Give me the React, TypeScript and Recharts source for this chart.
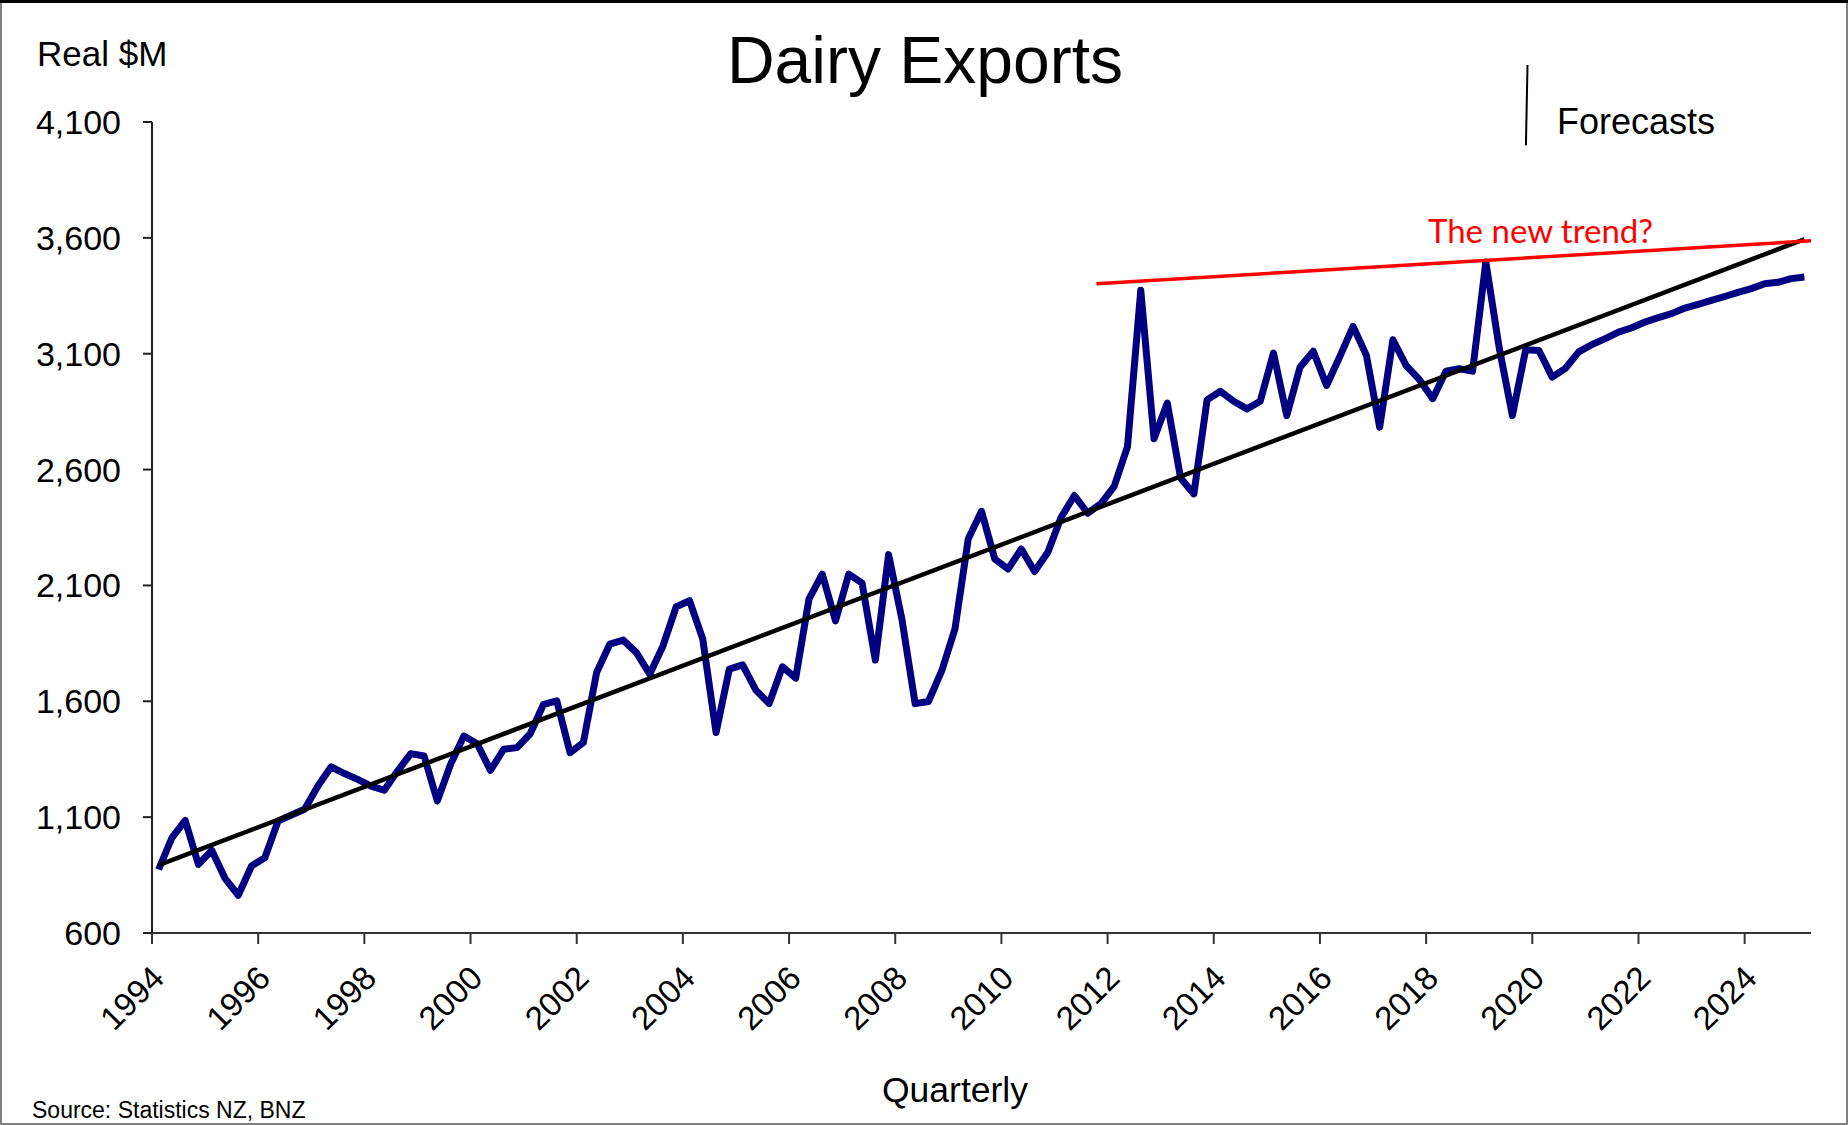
import React from "react";
import {
  Line,
  LineChart,
  ReferenceLine,
  XAxis,
  YAxis,
} from "recharts";

// Quarterly real dairy exports ($M), 1994Q1 onward
const START_YEAR = 1994;

const actuals = [
  874, 1011, 1086, 896, 957, 836, 763, 889, 925, 1083, 1109, 1134, 1234, 1317,
  1288, 1263, 1234, 1216, 1299, 1374, 1364, 1170, 1328, 1450, 1417, 1302, 1393,
  1400, 1460, 1587, 1602, 1378, 1422, 1724, 1847, 1864, 1810, 1717, 1839, 2008,
  2034, 1868, 1465, 1739, 1757, 1648, 1590, 1749, 1700, 2041, 2149, 1947, 2149,
  2110, 1778, 2233, 1955, 1590, 1599, 1731, 1912, 2300, 2420, 2214, 2171, 2257,
  2160, 2243, 2394, 2488, 2412, 2453, 2528, 2699, 3374, 2733, 2887, 2564, 2495,
  2901, 2938, 2895, 2862, 2895, 3103, 2833, 3042, 3111, 2963, 3088, 3218, 3093,
  2783, 3160, 3049, 2988, 2906, 3025, 3035, 3025, 3496, 3128, 2833, 3117,
];

// 2020Q1 onward
const forecasts = [
  3114, 2999, 3037, 3108, 3140, 3165, 3193, 3212, 3237, 3256, 3273, 3297, 3313,
  3330, 3347, 3365, 3381, 3402, 3408, 3424, 3431,
];

const trendLine = [
  { x: 1994.125, value: 893 },
  { x: 2025.125, value: 3594 },
];

const newTrendLine = [
  { x: 2011.79, value: 3402 },
  { x: 2025.25, value: 3587 },
];

const forecastMarker = [
  { x: 2019.91, y: 4346 },
  { x: 2019.88, y: 4000 },
];

const yearTicks = [
  1994, 1996, 1998, 2000, 2002, 2004, 2006, 2008, 2010, 2012, 2014, 2016, 2018,
  2020, 2022, 2024,
];
const valueTicks = [600, 1100, 1600, 2100, 2600, 3100, 3600, 4100];

const exportsData = [...actuals, ...forecasts].map((value, i) => ({
  x: START_YEAR + i / 4 + 0.125,
  value,
}));

const FONT = '"Liberation Sans", Arial, sans-serif';
const W = 1848;
const H = 1125;

const YearTick = ({ x, y, payload }: any) => (
  <text
    x={0}
    y={0}
    textAnchor="end"
    fontSize={33}
    fontFamily={FONT}
    fill="#000"
    transform={`translate(${x + 14},${y + 34}) rotate(-45)`}
  >
    {payload.value}
  </text>
);

const App = () => {
  return (
    <div
      style={{
        position: "absolute",
        left: 0,
        top: 0,
        width: W,
        height: H,
        background: "#fff",
        fontFamily: FONT,
      }}
    >
      <LineChart
        width={W}
        height={H}
        margin={{ top: 122, right: 37, bottom: 0, left: 0 }}
      >
        <XAxis
          type="number"
          dataKey="x"
          domain={[1994, 2025.25]}
          ticks={yearTicks}
          allowDataOverflow
          height={192}
          tickSize={11}
          tick={<YearTick />}
          interval={0}
          axisLine={{ stroke: "#333", strokeWidth: 2 }}
          tickLine={{ stroke: "#333", strokeWidth: 2 }}
        />
        <YAxis
          type="number"
          domain={[600, 4100]}
          ticks={valueTicks}
          allowDataOverflow
          width={152}
          tickSize={9}
          tickMargin={22}
          tickFormatter={(v: number) => v.toLocaleString("en-US")}
          tick={{ fontSize: 34, fill: "#000", fontFamily: FONT }}
          axisLine={{ stroke: "#222", strokeWidth: 2 }}
          tickLine={{ stroke: "#222", strokeWidth: 2 }}
        />
        <Line
          data={exportsData}
          dataKey="value"
          stroke="#000080"
          strokeWidth={7}
          strokeLinejoin="round"
          dot={false}
          activeDot={false}
          isAnimationActive={false}
        />
        <Line
          data={trendLine}
          dataKey="value"
          stroke="#000"
          strokeWidth={4.5}
          dot={false}
          activeDot={false}
          isAnimationActive={false}
        />
        <Line
          data={newTrendLine}
          dataKey="value"
          stroke="#ff0000"
          strokeWidth={3.5}
          dot={false}
          activeDot={false}
          isAnimationActive={false}
        />
        <ReferenceLine
          segment={forecastMarker}
          stroke="#000"
          strokeWidth={2}
          ifOverflow="visible"
        />
      </LineChart>
      <svg
        width={W}
        height={H}
        style={{ position: "absolute", left: 0, top: 0, pointerEvents: "none" }}
      >
        <text x={925} y={83} textAnchor="middle" fontSize={66} fontFamily={FONT}>
          Dairy Exports
        </text>
        <text x={37} y={66} fontSize={35} fontFamily={FONT}>
          Real $M
        </text>
        <text x={1557} y={134} fontSize={36} fontFamily={FONT}>
          Forecasts
        </text>
        <text x={1428} y={243} fontSize={33} fontFamily="Lato, sans-serif" fill="#ff0000">
          The new trend?
        </text>
        <text x={955} y={1102} textAnchor="middle" fontSize={35.5} fontFamily={FONT}>
          Quarterly
        </text>
        <text x={32} y={1118} fontSize={23} fontFamily={FONT}>
          Source: Statistics NZ, BNZ
        </text>
        <rect x={1} y={1.5} width={W - 2} height={H - 2.5} fill="none" stroke="#808080" strokeWidth={2} />
        <line x1={0} y1={1.5} x2={W} y2={1.5} stroke="#000" strokeWidth={3} />
      </svg>
    </div>
  );
};

export default App;
